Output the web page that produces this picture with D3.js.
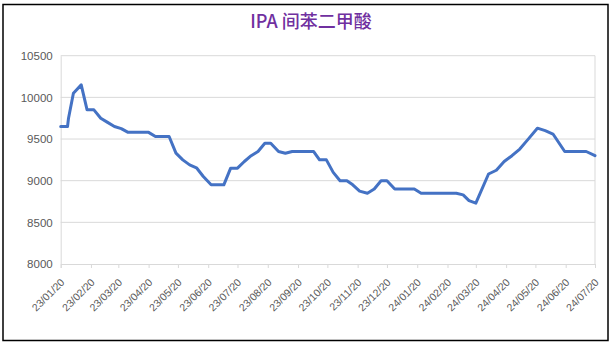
<!DOCTYPE html>
<html>
<head>
<meta charset="utf-8">
<script src="https://cdn.jsdelivr.net/npm/d3@7"></script>
<style>
  body { margin: 0; background: #fff; }
  svg { display: block; }
</style>
</head>
<body>
<div id="chart"></div>
<script>
// Chart data
const title = 'IPA 间苯二甲酸';

const dates = [
  '2023-01-20', '2023-01-27', '2023-01-28', '2023-02-02', '2023-02-10', '2023-02-16', '2023-02-23',
  '2023-03-02', '2023-03-09', '2023-03-16', '2023-03-23', '2023-03-30', '2023-04-06', '2023-04-13',
  '2023-04-20', '2023-04-27', '2023-05-04', '2023-05-11', '2023-05-18', '2023-05-25', '2023-06-01',
  '2023-06-08', '2023-06-15', '2023-06-23', '2023-06-29', '2023-07-06', '2023-07-13', '2023-07-20',
  '2023-07-27', '2023-08-03', '2023-08-10', '2023-08-17', '2023-08-23', '2023-08-31', '2023-09-07',
  '2023-09-14', '2023-09-21', '2023-09-28', '2023-10-06', '2023-10-12', '2023-10-19', '2023-10-26',
  '2023-11-02', '2023-11-09', '2023-11-15', '2023-11-22', '2023-11-30', '2023-12-07', '2023-12-14',
  '2023-12-20', '2023-12-28', '2024-01-04', '2024-01-11', '2024-01-17', '2024-01-24', '2024-02-01',
  '2024-02-08', '2024-02-22', '2024-02-29', '2024-03-07', '2024-03-13', '2024-03-20', '2024-04-02',
  '2024-04-10', '2024-04-18', '2024-04-26', '2024-05-04', '2024-05-12', '2024-05-22', '2024-05-30',
  '2024-06-07', '2024-06-19', '2024-06-28', '2024-07-05', '2024-07-11', '2024-07-20'
];

const prices = [
  9650, 9650, 9750, 10050, 10150, 9850, 9850,
  9750, 9700, 9650, 9625, 9580, 9580, 9580,
  9580, 9530, 9530, 9530, 9330, 9250, 9190,
  9155, 9050, 8950, 8950, 8950, 9150, 9150,
  9230, 9300, 9350, 9450, 9450, 9350, 9330,
  9350, 9350, 9350, 9350, 9250, 9250, 9100,
  9000, 9000, 8950, 8875, 8850, 8900, 9000,
  9000, 8900, 8900, 8900, 8900, 8850, 8850,
  8850, 8850, 8850, 8830, 8760, 8730, 9080,
  9125, 9230, 9300, 9380, 9490, 9630, 9600,
  9560, 9350, 9350, 9350, 9350, 9300
];

const yTicks = [8000, 8500, 9000, 9500, 10000, 10500];

const xTickLabels = [
  '23/01/20', '23/02/20', '23/03/20', '23/04/20', '23/05/20', '23/06/20', '23/07/20',
  '23/08/20', '23/09/20', '23/10/20', '23/11/20', '23/12/20', '24/01/20', '24/02/20',
  '24/03/20', '24/04/20', '24/05/20', '24/06/20', '24/07/20'
];

const W = 612, H = 349;
const margin = { left: 60.7, right: 17, top: 55.7, bottom: 85 };

const parseDate = d3.timeParse('%Y-%m-%d');
const parseTick = d3.timeParse('%y/%m/%d');
const data = dates.map((d, i) => ({ date: parseDate(d), value: prices[i] }));
const tickDates = xTickLabels.map(parseTick);

const svg = d3.select('#chart')
  .append('svg')
  .attr('width', W)
  .attr('height', H);

// outer frame
svg.append('rect')
  .attr('x', 3).attr('y', 4.5)
  .attr('width', 605).attr('height', 336)
  .attr('fill', '#fff')
  .attr('stroke', '#000')
  .attr('stroke-width', 1.5);

const x = d3.scaleTime()
  .domain([tickDates[0], tickDates[tickDates.length - 1]])
  .range([margin.left, W - margin.right]);

const y = d3.scaleLinear()
  .domain([8000, 10500])
  .range([H - margin.bottom, margin.top]);

// title
svg.append('text')
  .attr('x', 311)
  .attr('y', 28)
  .attr('text-anchor', 'middle')
  .style('font-family', '"Noto Sans CJK SC", "Liberation Sans", sans-serif')
  .style('font-size', '18px')
  .style('font-weight', '500')
  .style('fill', '#7030A0')
  .text(title);

// horizontal gridlines
svg.append('g')
  .selectAll('line')
  .data(yTicks.slice(1))
  .enter().append('line')
  .attr('x1', x.range()[0])
  .attr('x2', x.range()[1])
  .attr('y1', d => y(d))
  .attr('y2', d => y(d))
  .style('stroke', '#d9d9d9')
  .style('stroke-width', 1);

// right edge of plot
svg.append('line')
  .attr('x1', x.range()[1]).attr('x2', x.range()[1])
  .attr('y1', y(10500)).attr('y2', y(8000))
  .style('stroke', '#d9d9d9');

// y axis
const yAxis = svg.append('g')
  .attr('transform', `translate(${margin.left},0)`)
  .call(d3.axisLeft(y).tickValues(yTicks).tickSize(0).tickPadding(8).tickFormat(d3.format('d')));
yAxis.select('.domain').style('stroke', '#d9d9d9');
yAxis.selectAll('text')
  .style('font-family', '"Liberation Sans", Arial, sans-serif')
  .style('font-size', '11.5px')
  .style('fill', '#595959');

// x axis
const xAxis = svg.append('g')
  .attr('transform', `translate(0,${y(8000)})`)
  .call(d3.axisBottom(x).tickValues(tickDates).tickSize(4).tickFormat((d, i) => xTickLabels[i]));
xAxis.select('.domain').style('stroke', '#d9d9d9');
xAxis.selectAll('.tick line').style('stroke', '#d9d9d9');
xAxis.selectAll('text')
  .style('font-family', '"Liberation Sans", Arial, sans-serif')
  .style('font-size', '10.5px')
  .style('fill', '#595959')
  .attr('text-anchor', 'end')
  .attr('x', 0).attr('y', 0)
  .attr('dy', 0)
  .attr('transform', 'translate(4,19) rotate(-45)');

// price line
const line = d3.line()
  .x(d => x(d.date))
  .y(d => y(d.value));

svg.append('path')
  .datum(data)
  .attr('d', line)
  .style('fill', 'none')
  .style('stroke', '#4472C4')
  .style('stroke-width', 3)
  .style('stroke-linejoin', 'round')
  .style('stroke-linecap', 'round');
</script>
</body>
</html>
